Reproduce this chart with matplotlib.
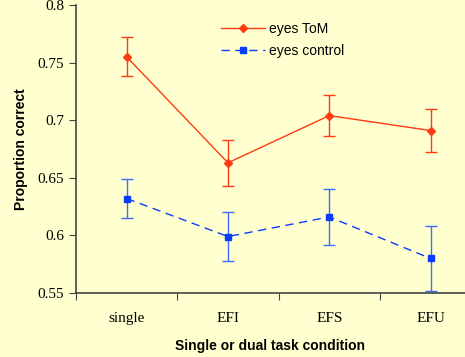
import matplotlib.pyplot as plt
from matplotlib.lines import Line2D

conditions = ['single', 'EFI', 'EFS', 'EFU']
tom_mean = [0.755, 0.663, 0.704, 0.691]
tom_err = [0.017, 0.020, 0.018, 0.019]
ctrl_mean = [0.632, 0.599, 0.616, 0.580]
ctrl_err = [0.017, 0.021, 0.024, 0.028]

bg = '#FFFFD0'
red = '#FF3A14'
blue = '#0A3CFF'
dash = (0, (6, 4))

fig = plt.figure(figsize=(4.65, 3.57), dpi=100, facecolor=bg)
ax = fig.add_axes([0.1634, 0.1793, 0.8366, 0.8067], facecolor=bg)

x = list(range(1, len(conditions) + 1))
ax.errorbar(x, tom_mean, yerr=tom_err, color=red, marker='D', markersize=4,
            linewidth=1, elinewidth=1, capsize=4)
ax.errorbar(x, ctrl_mean, yerr=ctrl_err, color=blue, marker='s', markersize=4.5,
            linewidth=1, linestyle=dash, elinewidth=1, capsize=4,
            ecolor='#3D6BFF')

ax.set_xlim(0.5, 4.34)
ax.set_ylim(0.55, 0.8)
ax.set_yticks([0.55, 0.6, 0.65, 0.7, 0.75, 0.8])
ax.set_yticklabels(['0.55', '0.6', '0.65', '0.7', '0.75', '0.8'])
ax.set_xticks([0.5, 1.5, 2.5, 3.5])
ax.set_xticklabels([])
ax.set_xticks(x, minor=True)
ax.set_xticklabels(conditions, minor=True)
ax.tick_params(axis='both', which='both', labelfontfamily='Liberation Serif',
               labelsize=11)
ax.tick_params(axis='x', which='minor', length=0, pad=14)
ax.tick_params(axis='both', which='major', length=5, color='#444444')
for s in ['top', 'right']:
    ax.spines[s].set_visible(False)
for s in ['left', 'bottom']:
    ax.spines[s].set_color('#444444')
    ax.spines[s].set_linewidth(1.2)

ax.set_ylabel('Proportion correct', family='Liberation Sans', fontweight='bold',
              fontsize=10, labelpad=7)
ax.set_xlabel('Single or dual task condition', family='Liberation Sans',
              fontweight='bold', fontsize=10, labelpad=10)

handles = [Line2D([], [], color=red, marker='D', markersize=4, linewidth=1),
           Line2D([], [], color=blue, marker='s', markersize=4.5, linewidth=1,
                  linestyle=dash)]
ax.legend(handles, ['eyes ToM', 'eyes control'], loc='upper left',
          bbox_to_anchor=(0.34, 0.985), frameon=False,
          prop={'family': 'Liberation Sans', 'size': 10},
          handlelength=3.2, handletextpad=0.3, labelspacing=0.6)

fig.savefig('out.png', dpi=100, facecolor=bg)
